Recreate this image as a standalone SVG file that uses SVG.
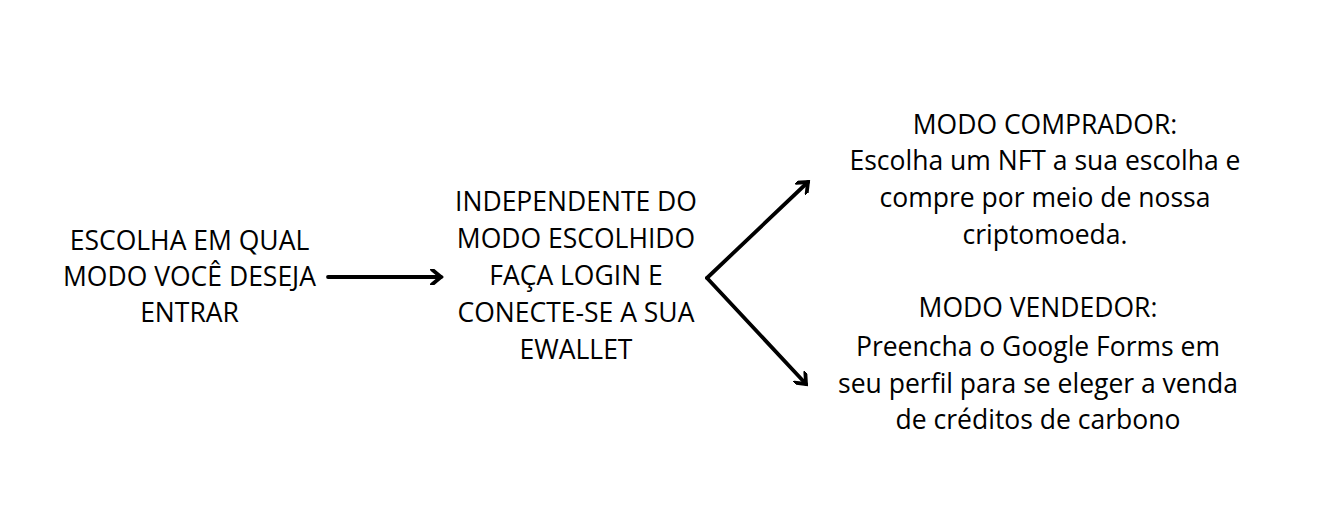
<svg xmlns="http://www.w3.org/2000/svg" width="1333" height="527" viewBox="0 0 1333 527">
<style>
text{font-family:"Open Sans","Liberation Sans",sans-serif;font-size:26.5px;fill:#000;text-anchor:middle}
.c{fill:none;stroke:#000;stroke-width:3.8;stroke-linecap:round;stroke-linejoin:round}
</style>
<defs>
<marker id="ah" viewBox="0 0 14 16" refX="11" refY="8" markerWidth="14" markerHeight="16" markerUnits="userSpaceOnUse" orient="auto">
<path d="M2,0.5 L11,8 L2,15.5" fill="none" stroke="#000" stroke-width="3.8" stroke-linecap="round" stroke-linejoin="miter"/>
</marker>
</defs>
<rect width="1333" height="527" fill="#fff"/>
<g id="n1">
<text x="189.5" y="250">ESCOLHA EM QUAL</text>
<text x="189.5" y="286">MODO VOCÊ DESEJA</text>
<text x="189.5" y="322">ENTRAR</text>
</g>
<g id="n2">
<text x="576" y="211">INDEPENDENTE DO</text>
<text x="576" y="248">MODO ESCOLHIDO</text>
<text x="576" y="285">FAÇA LOGIN E</text>
<text x="576" y="322">CONECTE-SE A SUA</text>
<text x="576" y="359">EWALLET</text>
</g>
<g id="n3">
<text x="1045" y="134">MODO COMPRADOR:</text>
<text x="1045" y="170">Escolha um NFT a sua escolha e</text>
<text x="1045" y="207">compre por meio de nossa</text>
<text x="1045" y="244">criptomoeda.</text>
</g>
<g id="n4">
<text x="1038" y="317">MODO VENDEDOR:</text>
<text x="1038" y="356">Preencha o Google Forms em</text>
<text x="1038" y="393">seu perfil para se eleger a venda</text>
<text x="1038" y="429">de créditos de carbono</text>
</g>
<g id="connectors">
<path class="c" d="M328,277 L441,277" marker-end="url(#ah)"/>
<path class="c" d="M707,278 L808,182" marker-end="url(#ah)"/>
<path class="c" d="M707,278 L806,384" marker-end="url(#ah)"/>
</g>
</svg>
